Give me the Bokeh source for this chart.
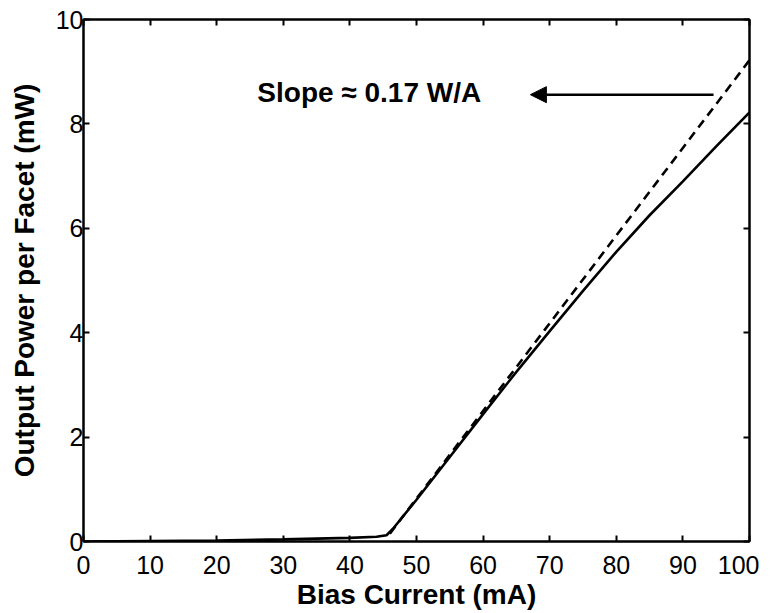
from bokeh.plotting import figure
from bokeh.models import (Range1d, LinearAxis, FixedTicker, Arrow, NormalHead, Label)
from bokeh.embed import file_html
from bokeh.resources import INLINE

# ---- data ----
bias_current = [0, 10, 20, 30, 40, 44, 45.5, 46.5, 50, 55, 60, 65, 70, 75, 80, 85, 90, 95, 100]
output_power = [0.0, 0.01, 0.02, 0.04, 0.07, 0.09, 0.12, 0.25, 0.8, 1.62, 2.44, 3.25, 4.03,
                4.8, 5.55, 6.25, 6.9, 7.57, 8.22]
fit_current = [46.0, 100]
fit_power = [0.15, 9.22]
x_ticks = [0, 10, 20, 30, 40, 50, 60, 70, 80, 90, 100]
y_ticks = [0, 2, 4, 6, 8, 10]
annotation_text = "Slope \u2248 0.17 W/A"
annotation_x = 26.1
annotation_y = 8.6
arrow_tail = (94.6, 8.56)
arrow_tip = (67.1, 8.56)

FONT = "Liberation Sans"

p = figure(frame_width=666, frame_height=522, output_backend="svg", toolbar_location=None,
           x_range=Range1d(0, 100), y_range=Range1d(0, 10),
           min_border_left=83, min_border_right=10, min_border_top=19, min_border_bottom=60)
p.background_fill_color = "white"
p.border_fill_color = "white"
p.grid.visible = False
p.outline_line_color = "black"
p.outline_line_width = 2

xa = p.xaxis[0]
ya = p.yaxis[0]
xa.ticker = FixedTicker(ticks=x_ticks)
ya.ticker = FixedTicker(ticks=y_ticks)
for ax in (xa, ya):
    ax.major_tick_in = 6
    ax.major_tick_out = 0
    ax.minor_tick_line_color = None
    ax.major_tick_line_width = 2
    ax.axis_line_width = 2
    ax.major_label_text_font = FONT
    ax.major_label_text_color = "black"
    ax.major_label_text_font_size = "25px"
    ax.axis_label_text_font = FONT
    ax.axis_label_text_font_style = "bold"
    ax.axis_label_text_font_size = "28px"
    ax.axis_label_text_color = "black"
xa.axis_label = "Bias Current (mA)"
ya.axis_label = "Output Power per Facet (mW)"
xa.major_label_standoff = 14
ya.major_label_standoff = 0
xa.axis_label_standoff = 2
ya.axis_label_standoff = 13

top = LinearAxis(ticker=FixedTicker(ticks=x_ticks))
right = LinearAxis(ticker=FixedTicker(ticks=y_ticks))
for ax in (top, right):
    ax.major_tick_in = 6
    ax.major_tick_out = 0
    ax.minor_tick_line_color = None
    ax.major_tick_line_width = 2
    ax.axis_line_width = 2
    ax.major_label_text_font_size = "1px"
    ax.major_label_text_color = None
    ax.major_label_standoff = 0
p.add_layout(top, "above")
p.add_layout(right, "right")

p.line(bias_current, output_power, line_color="black", line_width=2.6)
p.line(fit_current, fit_power, line_color="black", line_width=2.6, line_dash="9 6")

p.add_layout(Arrow(end=NormalHead(size=16, fill_color="black", line_color="black"),
                   x_start=arrow_tail[0], y_start=arrow_tail[1],
                   x_end=arrow_tip[0], y_end=arrow_tip[1],
                   line_color="black", line_width=2.5))
p.add_layout(Label(x=annotation_x, y=annotation_y, text=annotation_text,
                   text_font=FONT, text_font_style="bold", text_font_size="28px",
                   text_baseline="middle", text_align="left", text_color="black"))

open("out.html", "w").write(file_html(p, INLINE))
